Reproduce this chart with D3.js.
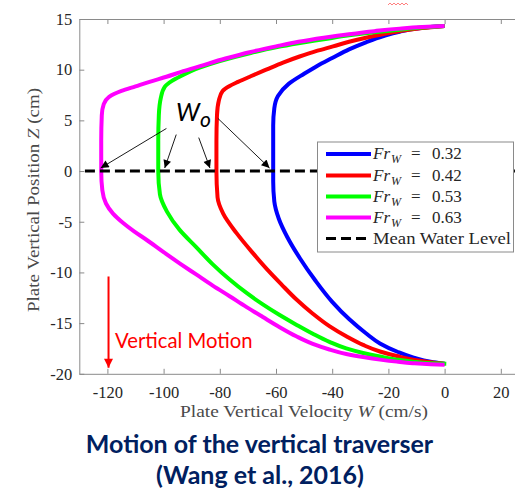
<!DOCTYPE html>
<html>
<head>
<meta charset="utf-8">
<script src="https://cdn.jsdelivr.net/npm/d3@7"></script>
<style>
  body { margin: 0; background: #fff; }
  svg { display: block; }
</style>
</head>
<body>
<div id="chart"></div>
<script>
// ---- data ----
const xTicks = [-120, -100, -80, -60, -40, -20, 0, 20];
const yTicks = [15, 10, 5, 0, -5, -10, -15, -20];
const frValues = ["0.32", "0.42", "0.53", "0.63"];

// [W (cm/s), Z (cm)] from bottom end, through the steady part, to top end
const curve032 = [
  [0, -19.0], [-5, -18.8], [-11, -18.4], [-17, -17.8], [-23, -17.0], [-28, -16.0],
  [-34, -14.6], [-40, -12.9], [-46, -10.8], [-51.5, -8.6], [-56, -6.5], [-59, -4.7],
  [-60.6, -3.0], [-61, -1], [-61, 2], [-61, 4.5], [-60.6, 6.2], [-59.3, 7.4],
  [-55.5, 8.6], [-50, 9.6], [-45.5, 10.35], [-40, 11.15], [-34, 12.0], [-28, 12.7],
  [-22, 13.3], [-16, 13.75], [-10, 14.05], [-5, 14.2], [0, 14.3]
];
const curve042 = [
  [0, -19.0], [-5, -18.85], [-11.3, -18.6], [-17, -18.25], [-23, -17.8], [-29, -17.15],
  [-35, -16.3], [-41, -15.3], [-47, -14.05], [-52.8, -12.65], [-58, -11.2], [-62.5, -9.9],
  [-68.2, -8.1], [-74.1, -6.1], [-78.8, -4.2], [-80.8, -2.6], [-81.2, 0], [-81.2, 3],
  [-81, 5.5], [-80.3, 7.0], [-79, 7.9], [-76.5, 8.4], [-73.5, 8.8], [-69, 9.35],
  [-63.5, 10.0], [-57.5, 10.7], [-51.6, 11.3], [-45.5, 11.85], [-39.7, 12.3], [-34, 12.75],
  [-28, 13.15], [-22, 13.5], [-16, 13.8], [-8, 14.1], [0, 14.3]
];
const curve053 = [
  [0.6, -19.0], [-5, -18.95], [-11.3, -18.8], [-17, -18.6], [-23, -18.3], [-29, -17.95],
  [-35, -17.5], [-41, -16.85], [-46.9, -16.05], [-52.8, -15.15], [-58.7, -14.2], [-64.7, -13.15],
  [-70.6, -12.0], [-76.5, -10.7], [-82.5, -9.2], [-88.4, -7.5], [-94.3, -5.8], [-98.8, -4.0],
  [-101.3, -2.3], [-101.9, 0], [-101.9, 3], [-101.7, 5.5], [-101, 7.2], [-99.6, 8.3],
  [-97, 8.9], [-94, 9.35], [-87.2, 10.2], [-80, 10.85], [-69, 11.65], [-60, 12.2],
  [-52, 12.6], [-43, 13.0], [-34, 13.4], [-25, 13.7], [-16, 13.95], [-8, 14.15], [0, 14.3]
];
const curve063 = [
  [0, -19.1], [-5, -19.05], [-11.3, -18.95], [-17, -18.8], [-23, -18.6], [-29, -18.35],
  [-35, -18.05], [-41, -17.6], [-46.9, -17.05], [-52.8, -16.3], [-58.7, -15.4], [-64.7, -14.4],
  [-70.6, -13.4], [-76.5, -12.35], [-82.5, -11.3], [-88.4, -10.2], [-94.3, -9.1], [-100, -8.0],
  [-106, -6.8], [-110.5, -5.95], [-114.5, -5.1], [-118, -4.2], [-120.5, -3.2], [-121.8, -1.9],
  [-122.2, 0], [-122.2, 3], [-122, 5.5], [-121.3, 6.6], [-119.5, 7.3], [-115, 7.9],
  [-110, 8.35], [-105, 8.8], [-99, 9.3], [-93, 9.85], [-87, 10.35], [-78, 11.1],
  [-69, 11.75], [-60, 12.3], [-52, 12.75], [-43, 13.15], [-34, 13.5], [-25, 13.8],
  [-16, 14.05], [-8, 14.2], [0, 14.3]
];
const curves = [curve032, curve042, curve053, curve063];

// W0 annotation arrows: start and tip in data units
const w0Start = [[-99, 4.2], [-95.5, 3.6], [-87.5, 3.3], [-80.7, 5.2]];
const w0Tip = [[-122.4, 0.3], [-99.6, 0.3], [-83.5, 0.3], [-62.3, 0.3]];
const motionArrow = [[-119.6, -10.4], [-119.6, -19.4]];

// ---- layout ----
const width = 515, height = 488;
const colors = ["#0000ff", "#ff0000", "#00ff00", "#ff00ff"];
const navy = "#002060";
const serif = "'Liberation Serif', 'Times New Roman', serif";
const sans = "Lato, 'Open Sans', sans-serif";

const svg = d3.select("#chart").append("svg")
  .attr("width", width)
  .attr("height", height)
  .style("background", "#fff");

const x = d3.scaleLinear().domain([-130, 30]).range([79.3, 528.9]);
const y = d3.scaleLinear().domain([-20, 15]).range([373.8, 19]);

const defs = svg.append("defs");
function marker(id, color, w, h) {
  defs.append("marker")
    .attr("id", id)
    .attr("viewBox", "0 0 10 10")
    .attr("refX", 10).attr("refY", 5)
    .attr("markerUnits", "userSpaceOnUse")
    .attr("markerWidth", w).attr("markerHeight", h)
    .attr("orient", "auto")
    .append("path")
    .attr("d", "M0,0L10,5L0,10Z")
    .attr("fill", color);
}
marker("arrBlack", "#000", 10, 8);
marker("arrRed", "#ff0000", 10, 9);

function styleAxis(g) {
  g.selectAll("path, line").attr("stroke", "#8a8a8a");
  g.selectAll("text")
    .style("font-family", serif)
    .style("font-size", "16.5px")
    .attr("fill", "#262626");
}

// axes (ticks pointing inward, MATLAB style)
svg.append("g")
  .attr("transform", "translate(0," + y(-20) + ")")
  .call(d3.axisBottom(x).tickValues(xTicks).tickFormat(d => String(d))
    .tickSizeInner(-5).tickSizeOuter(0).tickPadding(12))
  .call(styleAxis);

svg.append("g")
  .attr("transform", "translate(0," + y(15) + ")")
  .call(d3.axisTop(x).tickValues(xTicks).tickSizeInner(-5).tickSizeOuter(0).tickFormat(""))
  .call(styleAxis);

svg.append("g")
  .attr("transform", "translate(" + x(-130) + ",0)")
  .call(d3.axisLeft(y).tickValues(yTicks).tickFormat(d => String(d))
    .tickSizeInner(-5).tickSizeOuter(0).tickPadding(7))
  .call(styleAxis);

// curves (each is monotonic in Z)
const line = d3.line()
  .x(d => x(d[0]))
  .y(d => y(d[1]))
  .curve(d3.curveMonotoneY);

svg.append("g").selectAll("path")
  .data(curves)
  .join("path")
  .attr("d", line)
  .attr("fill", "none")
  .attr("stroke", (d, i) => colors[i])
  .attr("stroke-width", 4)
  .attr("stroke-linejoin", "round");

// mean water level
svg.append("line")
  .attr("x1", x(-128)).attr("x2", x(30))
  .attr("y1", y(0)).attr("y2", y(0))
  .attr("stroke", "#000")
  .attr("stroke-width", 3)
  .attr("stroke-dasharray", "10,5");

// W0 annotation
svg.append("g").selectAll("line")
  .data(w0Start)
  .join("line")
  .attr("x1", d => x(d[0])).attr("y1", d => y(d[1]))
  .attr("x2", (d, i) => x(w0Tip[i][0])).attr("y2", (d, i) => y(w0Tip[i][1]))
  .attr("stroke", "#000")
  .attr("stroke-width", 0.9)
  .attr("marker-end", "url(#arrBlack)");

const w0 = svg.append("text")
  .attr("x", 176).attr("y", 121)
  .style("font-family", sans)
  .style("font-style", "italic")
  .style("font-size", "25px")
  .attr("fill", "#000");
w0.append("tspan").text("W");
w0.append("tspan").attr("dy", 6).style("font-size", "21px").text("o");

// vertical motion arrow
svg.append("line")
  .attr("x1", x(motionArrow[0][0])).attr("y1", y(motionArrow[0][1]))
  .attr("x2", x(motionArrow[1][0])).attr("y2", y(motionArrow[1][1]))
  .attr("stroke", "#ff0000")
  .attr("stroke-width", 2)
  .attr("marker-end", "url(#arrRed)");

svg.append("text")
  .attr("x", 115).attr("y", 348)
  .style("font-family", sans)
  .style("font-size", "20.3px")
  .attr("fill", "#ff0000")
  .text("Vertical Motion");

// legend
const lg = svg.append("g");
lg.append("rect")
  .attr("x", 317.5).attr("y", 142)
  .attr("width", 196).attr("height", 110)
  .attr("fill", "#fff")
  .attr("stroke", "#8a8a8a")
  .attr("stroke-width", 1);

const rowY = [154, 175.5, 196.5, 217.5, 238.5];
frValues.forEach((v, i) => {
  lg.append("line")
    .attr("x1", 326).attr("x2", 371)
    .attr("y1", rowY[i]).attr("y2", rowY[i])
    .attr("stroke", colors[i]).attr("stroke-width", 4);
  const t = lg.append("text")
    .attr("y", rowY[i] + 5)
    .style("font-family", serif)
    .style("font-size", "17px")
    .attr("fill", "#262626");
  t.append("tspan").attr("x", 373).style("font-style", "italic").text("Fr");
  t.append("tspan").attr("x", 391).attr("dy", 4).style("font-style", "italic").style("font-size", "12px").text("W");
  t.append("tspan").attr("x", 411).attr("dy", -4).text("=");
  t.append("tspan").attr("x", 432).text(v);
});
lg.append("line")
  .attr("x1", 326).attr("x2", 371)
  .attr("y1", rowY[4]).attr("y2", rowY[4])
  .attr("stroke", "#000").attr("stroke-width", 3)
  .attr("stroke-dasharray", "10,5");
lg.append("text")
  .attr("x", 373).attr("y", rowY[4] + 5)
  .style("font-family", serif)
  .style("font-size", "17px")
  .attr("fill", "#262626")
  .attr("textLength", 138)
  .attr("lengthAdjust", "spacingAndGlyphs")
  .text("Mean Water Level");

// axis titles
const xt = svg.append("text")
  .attr("x", 304).attr("y", 417)
  .attr("text-anchor", "middle")
  .style("font-family", serif)
  .style("font-size", "17px")
  .attr("fill", "#4a4a4a")
  .attr("textLength", 248)
  .attr("lengthAdjust", "spacingAndGlyphs");
xt.append("tspan").text("Plate Vertical Velocity ");
xt.append("tspan").style("font-style", "italic").text("W");
xt.append("tspan").text(" (cm/s)");

const yt = svg.append("text")
  .attr("transform", "translate(39,200) rotate(-90)")
  .attr("text-anchor", "middle")
  .style("font-family", serif)
  .style("font-size", "17px")
  .attr("fill", "#4a4a4a")
  .attr("textLength", 224)
  .attr("lengthAdjust", "spacingAndGlyphs");
yt.append("tspan").text("Plate Vertical Position ");
yt.append("tspan").style("font-style", "italic").text("Z");
yt.append("tspan").text(" (cm)");

// caption
svg.append("text")
  .attr("x", 259.5).attr("y", 453)
  .attr("text-anchor", "middle")
  .style("font-family", sans)
  .style("font-weight", "bold")
  .style("font-size", "25px")
  .attr("fill", navy)
  .text("Motion of the vertical traverser");
svg.append("text")
  .attr("x", 260).attr("y", 484)
  .attr("text-anchor", "middle")
  .style("font-family", sans)
  .style("font-weight", "bold")
  .style("font-size", "25px")
  .attr("fill", navy)
  .text("(Wang et al., 2016)");

// small red squiggle near the top edge
svg.append("path")
  .attr("d", d3.range(0, 11).map((k, i) => (i ? "L" : "M") + (388 + k * 2) + "," + (k % 2 ? 3 : 5)).join(""))
  .attr("fill", "none")
  .attr("stroke", "#ff6060")
  .attr("stroke-width", 0.8);
</script>
</body>
</html>
